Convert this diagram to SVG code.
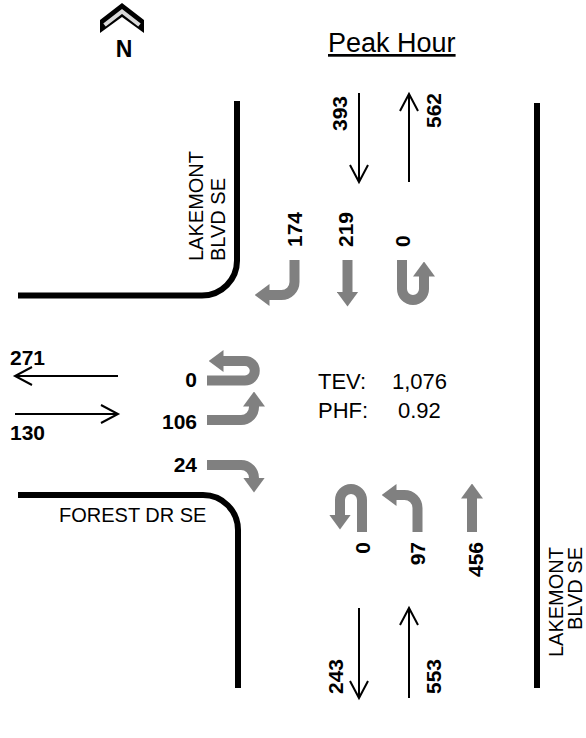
<svg xmlns="http://www.w3.org/2000/svg" width="586" height="738" viewBox="0 0 586 738">
<style>
text{font-family:"Liberation Sans",Arial,sans-serif;fill:#000}
.b{font-weight:bold;font-size:21px}
.r{font-size:20px}
.s{font-size:22px}
.road{fill:none;stroke:#000;stroke-width:6}
.thin{fill:none;stroke:#000;stroke-width:2}
.g{fill:none;stroke:#808080;stroke-width:10}
</style>
<defs>
<marker id="gh" viewBox="0 0 15 22" refX="0.5" refY="11" markerWidth="15" markerHeight="22" markerUnits="userSpaceOnUse" orient="auto">
<path d="M0,0 L15,11 L0,22 z" fill="#808080"/>
</marker>
<marker id="th" viewBox="-2 -2 22 22" refX="17" refY="9" markerWidth="22" markerHeight="22" markerUnits="userSpaceOnUse" orient="auto">
<polyline points="0,0 17,9 0,18" fill="none" stroke="#000" stroke-width="2"/>
</marker>
</defs>
<rect width="586" height="738" fill="#fff"/>

<g id="north">
<polygon points="100,20 122,3 144,20 144,33 122,17 100,33" fill="#000"/>
<polyline points="104.5,25 122,11.5 139.5,25" fill="none" stroke="#d9d9d9" stroke-width="4"/>
<text x="124" y="57" text-anchor="middle" style="font-weight:bold;font-size:23px">N</text>
</g>

<g id="title">
<text x="328" y="52" style="font-size:27px;text-decoration:underline">Peak Hour</text>
</g>

<g id="roads">
<path class="road" d="M237,101 V260 A35,35 0 0 1 202,295.5 H18"/>
<path class="road" d="M18,495 H203 A35,35 0 0 1 238,530 V688"/>
<path class="road" d="M537,103 V688"/>
</g>

<g id="street-labels">
<text class="r" transform="translate(203,261) rotate(-90)">LAKEMONT</text>
<text class="r" transform="translate(225,261) rotate(-90)">BLVD SE</text>
<text class="r" transform="translate(563,547) rotate(-90)" text-anchor="end">LAKEMONT</text>
<text class="r" transform="translate(582,547) rotate(-90)" text-anchor="end">BLVD SE</text>
<text class="r" x="59" y="522">FOREST DR SE</text>
</g>

<g id="connectors">
<path class="thin" d="M359,93 V182" marker-end="url(#th)"/>
<path class="thin" d="M409,182 V94" marker-end="url(#th)"/>
<path class="thin" d="M118,376 H15" marker-end="url(#th)"/>
<path class="thin" d="M15,414 H118" marker-end="url(#th)"/>
<path class="thin" d="M359,608 V698" marker-end="url(#th)"/>
<path class="thin" d="M409,698 V608" marker-end="url(#th)"/>

<path class="g" d="M294.5,260 V282 A13,13 0 0 1 281.5,295 H269" marker-end="url(#gh)"/>
<path class="g" d="M347.5,260 V292" marker-end="url(#gh)"/>
<path class="g" d="M402,260 V289 A11,11 0 0 0 424,289 V276" marker-end="url(#gh)"/>

<path class="g" d="M207,380.5 H245 A9.75,9.75 0 0 0 245,361 H223" marker-end="url(#gh)"/>
<path class="g" d="M207,420 H241 A13,13 0 0 0 254,407 V406" marker-end="url(#gh)"/>
<path class="g" d="M207,465 H241 A13,13 0 0 1 254,478" marker-end="url(#gh)"/>

<path class="g" d="M362,532 V500 A11,11 0 0 0 340,500 V515" marker-end="url(#gh)"/>
<path class="g" d="M417.5,532 V508 A13,13 0 0 0 404.5,495 H396" marker-end="url(#gh)"/>
<path class="g" d="M472,532 V498" marker-end="url(#gh)"/>
</g>

<g id="volumes">
<text class="b" transform="translate(347,131) rotate(-90)">393</text>
<text class="b" transform="translate(441,128) rotate(-90)">562</text>
<text class="b" transform="translate(302,247) rotate(-90)">174</text>
<text class="b" transform="translate(353,247) rotate(-90)">219</text>
<text class="b" transform="translate(410,247) rotate(-90)">0</text>
<text class="b" x="10" y="365">271</text>
<text class="b" x="10" y="440">130</text>
<text class="b" x="197" y="387" text-anchor="end">0</text>
<text class="b" x="197" y="429" text-anchor="end">106</text>
<text class="b" x="197" y="472" text-anchor="end">24</text>
<text class="b" transform="translate(370,542) rotate(-90)" text-anchor="end">0</text>
<text class="b" transform="translate(425,542) rotate(-90)" text-anchor="end">97</text>
<text class="b" transform="translate(483,542) rotate(-90)" text-anchor="end">456</text>
<text class="b" transform="translate(343,694) rotate(-90)">243</text>
<text class="b" transform="translate(441,694) rotate(-90)">553</text>
</g>

<g id="stats">
<text class="s" x="318" y="389">TEV:</text>
<text class="s" x="392" y="389">1,076</text>
<text class="s" x="318" y="418">PHF:</text>
<text class="s" x="398" y="418">0.92</text>
</g>
</svg>
